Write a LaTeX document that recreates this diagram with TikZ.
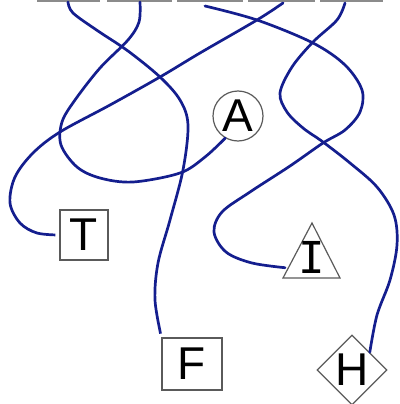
\documentclass[tikz,border=0pt]{standalone}
\usepackage{fontspec}
\setmainfont{Liberation Sans}
\newfontfamily\barletter{DejaVu Sans Mono}
\usetikzlibrary{shapes.geometric}
\definecolor{wireblue}{RGB}{20,30,142}
\definecolor{edgegray}{RGB}{90,90,90}

\begin{document}
\begin{tikzpicture}[x=1pt, y=-1pt,
  wire/.style={draw=wireblue, line width=2.7pt, line cap=round},
  letter/.style={draw=edgegray, line width=1.2pt, text=black, inner sep=0pt,
    font=\fontsize{46}{46}\selectfont}]
  \useasboundingbox (0,0) rectangle (399,404);
  % top bar (cut off)
  \foreach \a/\b in {37/100, 107/172, 177/243, 248/315, 320/383}
    \draw[edgegray!70, line width=2.5pt] (\a,0.5) -- (\b,0.5);
  \coordinate (top1) at (68,2);
  \coordinate (top2) at (140,2);
  \coordinate (top3) at (205,6);
  \coordinate (top4) at (283,3);
  \coordinate (top5) at (345,3);
  % targets
  \node[letter, circle, minimum size=50pt] (A) at (238,116) {A};
  \node[letter, rectangle, minimum width=48pt, minimum height=50pt] (T) at (84,235) {T};
  \node[letter, rectangle, minimum width=60pt, minimum height=52pt] (F) at (192,364) {F};
  \node[letter, diamond, minimum size=70pt] (H) at (352,370) {H};
  \coordinate (I-top) at (312,223);
  \coordinate (I-right) at (340,278);
  \coordinate (I-left) at (283,278);
  \coordinate (I-in) at (288,268);
  \draw[edgegray, line width=1.2pt] (I-top) -- (I-right) -- (I-left) -- cycle;
  \node[font=\fontsize{44}{44}\selectfont\barletter, inner sep=0pt] (I) at (312,257) {I};
  % wires
  \draw[wire, shorten >=4pt] plot[smooth, tension=0.55] coordinates {(top1) (73,13) (98,31)
    (128,51) (160,77) (180,100) (188,125) (183,170) (170,220) (158,263) (155,300) (F.north west)};
  \draw[wire] plot[smooth, tension=0.55] coordinates {(top2) (139,22) (128,40) (100,68)
    (75,100) (62,122) (61,145) (77,167) (100,178) (133,182) (180,173) (205,157) (A.240)};
  \draw[wire, shorten >=3pt] plot[smooth, tension=0.55] coordinates {(top3) (257,20) (313,43)
    (345,65) (362,90) (360,112) (345,130) (323,143) (290,166) (250,192) (222,212) (214,232)
    (226,252) (252,263) (I-in)};
  \draw[wire, shorten >=5pt] plot[smooth, tension=0.55] coordinates {(top4) (257,20) (200,53)
    (160,77) (110,105) (60,132) (33,153) (15,177) (10,203) (20,223) (37,233) (T.west)};
  \draw[wire] plot[smooth, tension=0.55] coordinates {(top5) (337,20) (313,42) (292,67)
    (280,93) (287,112) (303,128) (323,142) (350,163) (377,187) (394,215) (397,245)
    (390,280) (377,315) (H.north east)};
\end{tikzpicture}
\end{document}
